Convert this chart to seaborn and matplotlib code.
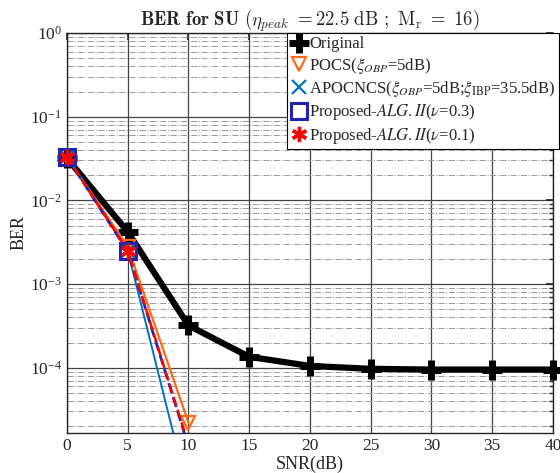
import numpy as np
import pandas as pd
import matplotlib
matplotlib.use("Agg")
import matplotlib.pyplot as plt
import seaborn as sns
from matplotlib.ticker import LogLocator, NullFormatter
from matplotlib.transforms import Bbox, TransformedBbox

# ========== data ==========
snr_full = [0, 5, 10, 15, 20, 25, 30, 35, 40]
ber_original = [0.032, 4.2e-3, 3.2e-4, 1.35e-4, 1.05e-4, 9.7e-5, 9.5e-5, 9.5e-5, 9.5e-5]

snr_short = [0, 5, 10]
ber_pocs = [0.033, 2.8e-3, 2.2e-5]
ber_apocncs = [0.033, 2.5e-3, 3.1e-6]
ber_alg2_03 = [0.033, 2.45e-3, 1.15e-5]
ber_alg2_01 = [0.033, 2.5e-3, 1.2e-5]

labels = [
    'Original',
    r'POCS($\xi_{OBP}$=5dB)',
    r'APOCNCS($\xi_{OBP}$=5dB;$\xi_{\mathrm{IBP}}$=35.5dB)',
    r'Proposed-$\mathit{ALG.II}$($\nu$=0.3)',
    r'Proposed-$\mathit{ALG.II}$($\nu$=0.1)',
]

sns.set_theme(style="white")
plt.rcParams['font.family'] = ['Liberation Serif', 'DejaVu Serif']
plt.rcParams['mathtext.fontset'] = 'stix'
plt.rcParams['xtick.direction'] = 'in'
plt.rcParams['ytick.direction'] = 'in'

fig = plt.figure(figsize=(5.6, 4.73), dpi=100)
ax = fig.add_axes([0.1196, 0.0846, 0.8679, 0.8456])


def draw(x, y, label, color, **kw):
    sns.lineplot(x=x, y=y, ax=ax, color=color, label=label,
                 markeredgecolor=color, **kw)


draw(snr_full, ber_original, labels[0], 'black', linewidth=4.5,
     marker='+', markersize=14, markeredgewidth=5, zorder=3)
draw(snr_short, ber_pocs, labels[1], '#FF6A13', linewidth=1.6,
     marker='v', markersize=10.5, markerfacecolor='none', markeredgewidth=1.6,
     clip_on=False, zorder=4)
draw(snr_short, ber_apocncs, labels[2], '#0072BD', linewidth=1.4,
     marker='x', markersize=10, markeredgewidth=1.6, zorder=4)
draw(snr_short, ber_alg2_03, labels[3], '#2323B0', linewidth=2.0,
     linestyle='--', marker='s', markersize=11, markerfacecolor='none',
     markeredgewidth=2.2, zorder=5)
draw(snr_short, ber_alg2_01, labels[4], 'red', linewidth=1.8,
     linestyle='--', marker=(6, 2, 0), markersize=11, markeredgewidth=2.4,
     zorder=6)

# markers may spill over left/right/top edges, but not below the bottom
clip = TransformedBbox(Bbox([[-0.05, 0.0], [1.05, 1.05]]), ax.transAxes)
for ln in ax.lines:
    if ln.get_clip_on():
        ln.set_clip_box(clip)

ax.set_yscale('log')
ax.set_xlim(0, 40)
ax.set_ylim(10 ** -4.78, 1)
ax.set_xticks(range(0, 41, 5))
ax.yaxis.set_major_locator(LogLocator(base=10, numticks=10))
ax.yaxis.set_minor_locator(LogLocator(base=10, subs=np.arange(2, 10), numticks=20))
ax.yaxis.set_minor_formatter(NullFormatter())

ax.grid(True, which='major', color='#444444', lw=0.9, ls='-')
ax.grid(True, which='minor', axis='y', color='#9a9a9a', lw=0.7, ls='-.')
ax.tick_params(which='both', top=True, right=True, labelsize=12.5, colors='#262626')
ax.tick_params(which='major', length=5)
ax.tick_params(which='minor', length=3)
for s in ax.spines.values():
    s.set_color('#262626')
    s.set_linewidth(1.0)

ax.set_xlabel('SNR(dB)', fontsize=13, labelpad=1)
ax.set_ylabel('BER', fontsize=13, labelpad=2)
t = ax.set_title(r'$\mathbf{BER\ for\ SU}\ (\eta_{peak}\ =22.5\ \mathrm{dB}\ ;\ \mathrm{M}_\mathrm{r}\ =\ 16)$',
                 fontsize=13.5, pad=5)
t.set_math_fontfamily('cm')

leg = ax.legend(loc='upper right', bbox_to_anchor=(1.012, 1.0), fontsize=12,
                frameon=True, fancybox=False, framealpha=1, edgecolor='black',
                handlelength=1.0, handletextpad=0.15, labelspacing=0.2,
                borderpad=0.2, borderaxespad=0)
leg.get_frame().set_linewidth(0.8)
leg.set_zorder(10)
for h in leg.legend_handles:
    h.set_linestyle('none')

fig.savefig('out.png', dpi=100)
